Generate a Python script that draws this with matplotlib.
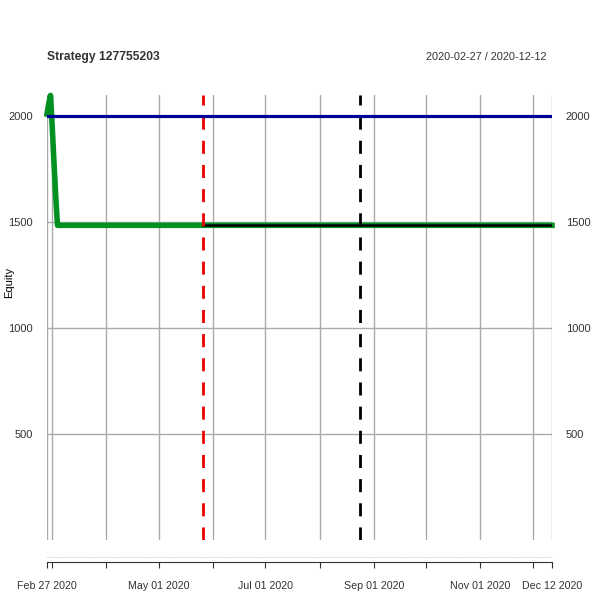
import matplotlib
matplotlib.use("Agg")
import matplotlib.pyplot as plt
import pandas as pd

plt.rcParams['font.family'] = ['Liberation Sans', 'DejaVu Sans']

# equity curve (green)
eq_dates = pd.to_datetime(['2020-02-27', '2020-02-28', '2020-02-29', '2020-03-01',
                           '2020-03-02', '2020-03-03', '2020-03-04', '2020-12-12'])
eq_values = [2010, 2060, 2098, 1950, 1780, 1620, 1485, 1485]

# out-of-sample segment (black)
oos_dates = pd.to_datetime(['2020-05-26', '2020-12-12'])
oos_values = [1487, 1487]

# starting capital (blue)
cap_dates = pd.to_datetime(['2020-02-27', '2020-12-12'])
cap_values = [2000, 2000]

# event markers
red_event = pd.Timestamp('2020-05-26')
black_event = pd.Timestamp('2020-08-24')

start, end = pd.Timestamp('2020-02-27'), pd.Timestamp('2020-12-12')
grid_dates = [start] + list(pd.date_range('2020-03-01', '2020-12-01', freq='MS')) + [end]
label_dates = list(pd.to_datetime(['2020-02-27', '2020-05-01', '2020-07-01',
                                   '2020-09-01', '2020-11-01', '2020-12-12']))
label_text = ['Feb 27 2020', 'May 01 2020', 'Jul 01 2020',
              'Sep 01 2020', 'Nov 01 2020', 'Dec 12 2020']
yticks = [500, 1000, 1500, 2000]

W, H = 600, 600
fig = plt.figure(figsize=(6, 6), dpi=100)
x0, x1 = 47, 552
ax = fig.add_axes([x0 / W, 1 - 540 / H, (x1 - x0) / W, (540 - 95) / H])
ax.set_xlim(start, end)
ax.set_ylim(0, 2100)
for s in ax.spines.values():
    s.set_visible(False)

grid_col = '#aaaaaa'
for d in grid_dates:
    ax.axvline(d, color=grid_col, lw=1, zorder=1)
for v in yticks:
    ax.axhline(v, color=grid_col, lw=1, zorder=1)

ax.plot(eq_dates, eq_values, color='#009121', lw=4, zorder=3, clip_on=False)
ax.plot(oos_dates, oos_values, color='black', lw=1.8, zorder=4)
ax.axvline(red_event, color='#ee0000', lw=2, ls=(0, (4.7, 4)), zorder=5)
ax.axvline(black_event, color='black', lw=2, ls=(0, (4.7, 4)), zorder=5)
ax.plot(cap_dates, cap_values, color='#000099', lw=2.3, zorder=6)

ax.set_xticks([])
ax.set_yticks(yticks)
ax.set_yticklabels([str(v) for v in yticks])
ax.tick_params(axis='y', length=0, labelsize=8, labelcolor='#333333', pad=10,
               labelleft=True, labelright=True)

# bottom time axis
axb = fig.add_axes([x0 / W, 1 - 562 / H, (x1 - x0) / W, 5 / H])
axb.set_xlim(start, end)
axb.set_ylim(0, 1)
axb.set_yticks([])
for k in ['left', 'right']:
    axb.spines[k].set_visible(False)
axb.spines['top'].set_color('#dddddd')
axb.spines['top'].set_linestyle(':')
axb.spines['bottom'].set_color('#333333')
axb.set_xticks(grid_dates)
axb.set_xticklabels([label_text[label_dates.index(d)] if d in label_dates else ''
                     for d in grid_dates])
axb.tick_params(axis='x', length=4.5, color='#333333', labelsize=7.7,
                labelcolor='#333333', pad=9)
axb.patch.set_alpha(0)

fig.text(47 / W, 1 - 57 / H, 'Strategy 127755203', fontsize=8.7, fontweight='bold',
         color='#333333', ha='left', va='center')
fig.text(547 / W, 1 - 57 / H, '2020-02-27 / 2020-12-12', fontsize=7.9,
         color='#333333', ha='right', va='center')
fig.text(9 / W, 1 - 282 / H, 'Equity', fontsize=8, rotation=90,
         ha='center', va='center', color='black')

fig.savefig('out.png', dpi=100)
